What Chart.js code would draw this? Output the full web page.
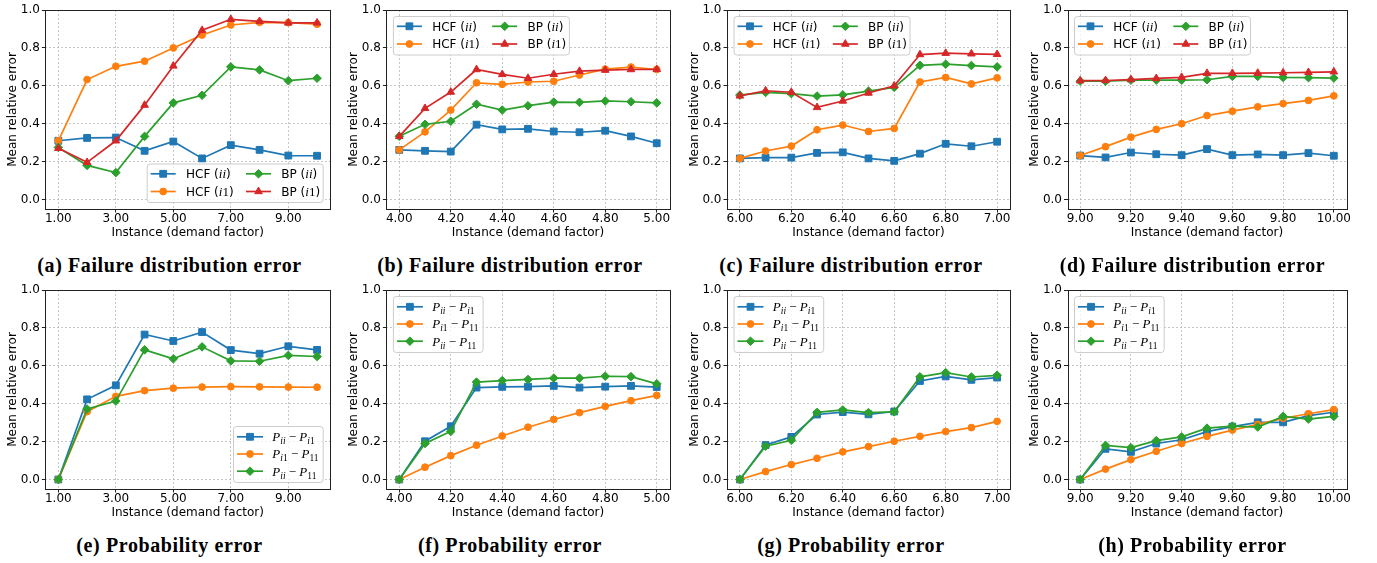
<!DOCTYPE html>
<html>
<head>
<meta charset="utf-8">
<script src="https://cdn.jsdelivr.net/npm/chart.js@4.4.0/dist/chart.umd.min.js"></script>
<style>
    body { margin: 0; background: #fff; width: 1377px; height: 563px; position: relative; overflow: hidden; }
    canvas { position: absolute; }
    .cap {
        position: absolute; width: 340px; text-align: center; white-space: nowrap;
        font-family: "Liberation Serif", serif; font-weight: bold; font-size: 20px;
        line-height: 20px; letter-spacing: 0.6px; color: #000;
    }
</style>
</head>
<body>
<script>
// x values (demand factor) per column
const xA = [1, 2, 3, 4, 5, 6, 7, 8, 9, 10];
const xB = [4.0, 4.1, 4.2, 4.3, 4.4, 4.5, 4.6, 4.7, 4.8, 4.9, 5.0];
const xC = [6.0, 6.1, 6.2, 6.3, 6.4, 6.5, 6.6, 6.7, 6.8, 6.9, 7.0];
const xD = [9.0, 9.1, 9.2, 9.3, 9.4, 9.5, 9.6, 9.7, 9.8, 9.9, 10.0];

// tick labels
const ticksA = [1, 3, 5, 7, 9];
const ticksB = [4.0, 4.2, 4.4, 4.6, 4.8, 5.0];
const ticksC = [6.0, 6.2, 6.4, 6.6, 6.8, 7.0];
const ticksD = [9.0, 9.2, 9.4, 9.6, 9.8, 10.0];
const yTicks = [0.0, 0.2, 0.4, 0.6, 0.8, 1.0];

// (a)-(d) failure distribution error
const hcfIiA = [0.31, 0.325, 0.327, 0.257, 0.306, 0.217, 0.287, 0.262, 0.232, 0.231];
const hcfI1A = [0.31, 0.633, 0.703, 0.73, 0.8, 0.868, 0.921, 0.935, 0.933, 0.925];
const bpIiA  = [0.275, 0.18, 0.142, 0.333, 0.51, 0.55, 0.7, 0.684, 0.627, 0.64];
const bpI1A  = [0.27, 0.196, 0.31, 0.498, 0.705, 0.893, 0.951, 0.94, 0.932, 0.932];

const hcfIiB = [0.262, 0.257, 0.253, 0.395, 0.37, 0.373, 0.359, 0.355, 0.363, 0.333, 0.297];
const hcfI1B = [0.262, 0.357, 0.472, 0.616, 0.608, 0.62, 0.624, 0.657, 0.688, 0.699, 0.686];
const bpIiB  = [0.334, 0.397, 0.413, 0.503, 0.472, 0.495, 0.514, 0.513, 0.52, 0.516, 0.51];
const bpI1B  = [0.333, 0.481, 0.567, 0.686, 0.66, 0.64, 0.661, 0.677, 0.683, 0.686, 0.687];

const hcfIiC = [0.217, 0.221, 0.221, 0.246, 0.249, 0.217, 0.204, 0.242, 0.294, 0.281, 0.305];
const hcfI1C = [0.217, 0.256, 0.282, 0.368, 0.393, 0.359, 0.375, 0.62, 0.644, 0.61, 0.642];
const bpIiC  = [0.551, 0.565, 0.559, 0.546, 0.552, 0.572, 0.592, 0.708, 0.714, 0.707, 0.7];
const bpI1C  = [0.547, 0.574, 0.566, 0.486, 0.52, 0.562, 0.6, 0.765, 0.772, 0.769, 0.766];

const hcfIiD = [0.232, 0.222, 0.248, 0.239, 0.234, 0.266, 0.234, 0.238, 0.234, 0.245, 0.231];
const hcfI1D = [0.232, 0.279, 0.329, 0.37, 0.4, 0.443, 0.466, 0.489, 0.506, 0.523, 0.547];
const bpIiD  = [0.625, 0.624, 0.63, 0.63, 0.63, 0.632, 0.65, 0.65, 0.644, 0.643, 0.641];
const bpI1D  = [0.627, 0.628, 0.633, 0.639, 0.645, 0.666, 0.666, 0.667, 0.669, 0.671, 0.674];

// (e)-(h) probability error
const pIiI1E = [0, 0.423, 0.497, 0.765, 0.731, 0.778, 0.683, 0.664, 0.703, 0.684];
const pI111E = [0, 0.358, 0.439, 0.469, 0.482, 0.488, 0.49, 0.489, 0.488, 0.487];
const pIi11E = [0, 0.372, 0.414, 0.684, 0.637, 0.7, 0.626, 0.624, 0.655, 0.649];

const pIiI1F = [0, 0.202, 0.281, 0.485, 0.489, 0.49, 0.494, 0.485, 0.49, 0.494, 0.488];
const pI111F = [0, 0.065, 0.126, 0.181, 0.23, 0.276, 0.317, 0.353, 0.386, 0.416, 0.444];
const pIi11F = [0, 0.19, 0.254, 0.514, 0.522, 0.528, 0.535, 0.535, 0.545, 0.543, 0.505];

const pIiI1G = [0, 0.182, 0.225, 0.343, 0.356, 0.344, 0.359, 0.52, 0.544, 0.526, 0.538];
const pI111G = [0, 0.042, 0.079, 0.112, 0.146, 0.174, 0.202, 0.228, 0.253, 0.274, 0.307];
const pIi11G = [0, 0.176, 0.207, 0.354, 0.367, 0.353, 0.357, 0.542, 0.564, 0.541, 0.55];

const pIiI1H = [0, 0.162, 0.146, 0.19, 0.21, 0.253, 0.279, 0.302, 0.302, 0.337, 0.355];
const pI111H = [0, 0.055, 0.105, 0.149, 0.19, 0.228, 0.261, 0.291, 0.323, 0.347, 0.369];
const pIi11H = [0, 0.18, 0.168, 0.205, 0.225, 0.271, 0.282, 0.277, 0.333, 0.319, 0.333];

// fonts for legend labels (mathtext-ish)
const SANS = '12px "DejaVu Sans"';
const ITAL = 'italic 13px "Liberation Serif"';
const ROM = '13px "Liberation Serif"';
const SUBI = 'italic 9.5px "Liberation Serif"';
const SUBR = '9.5px "Liberation Serif"';

const failLabels = [
    [['HCF (', SANS], ['ii', ITAL], [')', SANS]],
    [['HCF (', SANS], ['i', ITAL], ['1', ROM], [')', SANS]],
    [['BP (', SANS], ['ii', ITAL], [')', SANS]],
    [['BP (', SANS], ['i', ITAL], ['1', ROM], [')', SANS]]
];
const probLabels = [
    [['P', ITAL], ['ii', SUBI, 3], [' \u2212 ', ROM], ['P', ITAL], ['i', SUBI, 3], ['1', SUBR, 3]],
    [['P', ITAL], ['i', SUBI, 3], ['1', SUBR, 3], [' \u2212 ', ROM], ['P', ITAL], ['11', SUBR, 3]],
    [['P', ITAL], ['ii', SUBI, 3], [' \u2212 ', ROM], ['P', ITAL], ['11', SUBR, 3]]
];

const styles = [
    { color: '#1f77b4', marker: 'rect', r: 4.8 },
    { color: '#ff7f0e', marker: 'circle', r: 3.4 },
    { color: '#2ca02c', marker: 'rectRot', r: 4.3 },
    { color: '#d62728', marker: 'triangle', r: 4.4 }
];

// canvas placement per column: canvas left/width, y-axis width, right padding, ylabel offset
const cols = [
    { cl: 0, cw: 340, yw: 45.4, pr: 10, tp: 5.8 },
    { cl: 340, cw: 340, yw: 46.4, pr: 10.4, tp: 6.5 },
    { cl: 680, cw: 345, yw: 47, pr: 15, tp: 7.8 },
    { cl: 1020, cw: 357, yw: 47.5, pr: 30.5, tp: 7.8 }
];
const rowTops = [0, 280];
const capCenters = [169.5, 510, 851, 1192.5];
const capTops = [254.5, 535];

const legendGeo = {
    fail: { w: 176, h: 38.5, cols: [4, 99.3], handle: 25, textOff: 35.3, rows: [10.3, 28] },
    prob: { w: 89.7, h: 56, cols: [4], handle: 26, textOff: 35.3, rows: [10.8, 28, 45.2] }
};

const panels = [
    { col: 0, row: 0, x: xA, xTicks: ticksA, min: 0.55, max: 10.45, series: [hcfIiA, hcfI1A, bpIiA, bpI1A], kind: 'fail', pos: 'lr', cap: '(a) Failure distribution error' },
    { col: 1, row: 0, x: xB, xTicks: ticksB, min: 3.95, max: 5.05, series: [hcfIiB, hcfI1B, bpIiB, bpI1B], kind: 'fail', pos: 'ul', cap: '(b) Failure distribution error' },
    { col: 2, row: 0, x: xC, xTicks: ticksC, min: 5.95, max: 7.05, series: [hcfIiC, hcfI1C, bpIiC, bpI1C], kind: 'fail', pos: 'ul', cap: '(c) Failure distribution error' },
    { col: 3, row: 0, x: xD, xTicks: ticksD, min: 8.95, max: 10.05, series: [hcfIiD, hcfI1D, bpIiD, bpI1D], kind: 'fail', pos: 'ul', cap: '(d) Failure distribution error' },
    { col: 0, row: 1, x: xA, xTicks: ticksA, min: 0.55, max: 10.45, series: [pIiI1E, pI111E, pIi11E], kind: 'prob', pos: 'lr', cap: '(e) Probability error' },
    { col: 1, row: 1, x: xB, xTicks: ticksB, min: 3.95, max: 5.05, series: [pIiI1F, pI111F, pIi11F], kind: 'prob', pos: 'ul', cap: '(f) Probability error' },
    { col: 2, row: 1, x: xC, xTicks: ticksC, min: 5.95, max: 7.05, series: [pIiI1G, pI111G, pIi11G], kind: 'prob', pos: 'ul', cap: '(g) Probability error' },
    { col: 3, row: 1, x: xD, xTicks: ticksD, min: 8.95, max: 10.05, series: [pIiI1H, pI111H, pIi11H], kind: 'prob', pos: 'ul', cap: '(h) Probability error' }
];

function drawMarker(ctx, st, x, y) {
    const r = st.r;
    ctx.beginPath();
    if (st.marker === 'circle') {
        ctx.arc(x, y, r, 0, Math.PI * 2);
    } else if (st.marker === 'rect') {
        const s = r * Math.SQRT1_2;
        ctx.rect(x - s, y - s, 2 * s, 2 * s);
    } else if (st.marker === 'rectRot') {
        ctx.moveTo(x, y - r); ctx.lineTo(x + r, y); ctx.lineTo(x, y + r); ctx.lineTo(x - r, y);
        ctx.closePath();
    } else {
        for (let k = 0; k < 3; k++) {
            const a = k * 2 * Math.PI / 3;
            const px = x + Math.sin(a) * r, py = y - Math.cos(a) * r;
            if (k === 0) ctx.moveTo(px, py); else ctx.lineTo(px, py);
        }
        ctx.closePath();
    }
    ctx.fill();
    ctx.stroke();
}

function drawRich(ctx, segs, x, y) {
    segs.forEach(s => {
        ctx.font = s[1];
        ctx.fillText(s[0], x, y + (s[2] || 0));
        x += ctx.measureText(s[0]).width;
    });
}

// matplotlib style frame round the axes
const framePlugin = {
    id: 'frame',
    afterDatasetsDraw(chart) {
        const { ctx, chartArea: a } = chart;
        ctx.save();
        ctx.strokeStyle = '#222';
        ctx.lineWidth = 1;
        const l = Math.round(a.left) + 0.5, t = Math.round(a.top) + 0.5;
        const r = Math.round(a.right) + 0.5, b = Math.round(a.bottom) + 0.5;
        ctx.strokeRect(l, t, r - l, b - t);
        ctx.restore();
    }
};

// legend box with line + marker handles
const mplLegend = {
    id: 'mplLegend',
    afterDraw(chart, args, opts) {
        if (!opts || !opts.geo) return;
        const { ctx, chartArea: a } = chart;
        const g = opts.geo;
        const bx = opts.pos === 'lr' ? a.right - 7.3 - g.w : a.left + 6.5;
        const by = opts.pos === 'lr' ? a.bottom - 7 - g.h : a.top + 6;
        ctx.save();
        ctx.beginPath();
        ctx.roundRect(bx + 0.5, by + 0.5, g.w, g.h, 3);
        ctx.fillStyle = 'rgba(255,255,255,0.8)';
        ctx.fill();
        ctx.strokeStyle = '#cccccc';
        ctx.lineWidth = 1;
        ctx.stroke();
        const nRows = g.rows.length;
        opts.labels.forEach((lab, i) => {
            const c = Math.floor(i / nRows), rIdx = i % nRows;
            const hx = bx + g.cols[c], hy = by + g.rows[rIdx];
            const st = styles[i];
            ctx.strokeStyle = st.color;
            ctx.fillStyle = st.color;
            ctx.lineWidth = 1.7;
            ctx.beginPath();
            ctx.moveTo(hx, hy); ctx.lineTo(hx + g.handle, hy);
            ctx.stroke();
            ctx.lineWidth = 1;
            drawMarker(ctx, st, hx + g.handle / 2, hy);
            ctx.fillStyle = '#000';
            ctx.textBaseline = 'alphabetic';
            ctx.textAlign = 'left';
            drawRich(ctx, lab, hx + g.textOff, hy + 4.4);
        });
        ctx.restore();
    }
};

const tickFont = { family: 'DejaVu Sans', size: 12, lineHeight: 1 };
const titleFont = { family: 'DejaVu Sans', size: 12, lineHeight: 1.2 };

panels.forEach(p => {
    const c = cols[p.col];
    const canvas = document.createElement('canvas');
    canvas.width = c.cw;
    canvas.height = 250;
    canvas.style.left = c.cl + 'px';
    canvas.style.top = rowTops[p.row] + 'px';
    document.body.appendChild(canvas);

    const cap = document.createElement('div');
    cap.className = 'cap';
    cap.textContent = p.cap;
    cap.style.left = (capCenters[p.col] - 170) + 'px';
    cap.style.top = capTops[p.row] + 'px';
    document.body.appendChild(cap);

    const n = p.series.length;
    new Chart(canvas, {
        type: 'line',
        data: {
            datasets: p.series.map((s, i) => ({
                data: p.x.map((xv, j) => ({ x: xv, y: s[j] })),
                borderColor: styles[i].color,
                backgroundColor: styles[i].color,
                pointBackgroundColor: styles[i].color,
                pointBorderColor: styles[i].color,
                pointStyle: styles[i].marker,
                pointRadius: styles[i].r,
                pointBorderWidth: 1,
                borderWidth: 1.7,
                tension: 0,
                order: n - i,
                clip: false
            }))
        },
        options: {
            responsive: false,
            animation: false,
            devicePixelRatio: 1,
            layout: { padding: { top: 10, right: c.pr, bottom: 0, left: 0 } },
            plugins: {
                legend: { display: false },
                tooltip: { enabled: false },
                mplLegend: { geo: legendGeo[p.kind], pos: p.pos, labels: p.kind === 'fail' ? failLabels : probLabels }
            },
            scales: {
                x: {
                    type: 'linear',
                    min: p.min,
                    max: p.max,
                    afterBuildTicks: s => { s.ticks = p.xTicks.map(v => ({ value: v })); },
                    afterFit: s => { s.height = 41; s.paddingLeft = 0; s.paddingRight = 0; },
                    ticks: { callback: v => v.toFixed(2), font: tickFont, color: '#000', padding: 0, maxRotation: 0, autoSkip: false },
                    grid: { color: '#b8b8b8', lineWidth: 0.8, tickColor: '#222', tickLength: 3.5, tickWidth: 1, tickBorderDash: [] },
                    border: { display: false, dash: [2, 2] },
                    title: { display: true, text: 'Instance (demand factor)', font: titleFont, color: '#000', padding: { top: 0, bottom: 10 } }
                },
                y: {
                    min: -0.05,
                    max: 1.0,
                    afterBuildTicks: s => { s.ticks = yTicks.map(v => ({ value: v })); },
                    afterFit: s => { s.width = c.yw; s.paddingTop = 0; s.paddingBottom = 0; },
                    ticks: { callback: v => v.toFixed(1), font: tickFont, color: '#000', padding: 2 },
                    grid: { color: '#b8b8b8', lineWidth: 0.8, tickColor: '#222', tickLength: 3.5, tickWidth: 1, tickBorderDash: [] },
                    border: { display: false, dash: [2, 2] },
                    title: { display: true, text: 'Mean relative error', font: titleFont, color: '#000', padding: { top: c.tp, bottom: 0 } }
                }
            }
        },
        plugins: [framePlugin, mplLegend]
    });
});
</script>
</body>
</html>
